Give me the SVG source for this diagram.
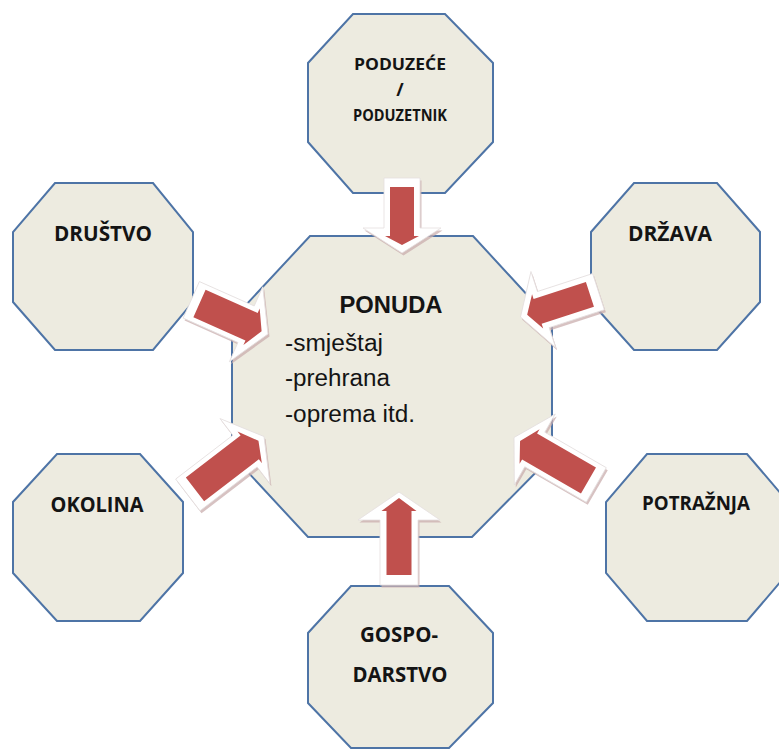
<svg xmlns="http://www.w3.org/2000/svg" width="779" height="749" viewBox="0 0 779 749">
<style>
.oct{fill:#EDEBE0;stroke:#4E74A6;stroke-width:2;stroke-linejoin:miter}
.lbl{font-family:"Open Sans","Noto Sans","Liberation Sans",sans-serif;font-weight:700;fill:#141414;text-anchor:middle}
.ctr{font-family:"Liberation Sans",Arial,sans-serif;fill:#141414}
.ash{fill:#C9AEAE;opacity:0.75}
.awh{fill:#FFFFFF;stroke:#E4DEDE;stroke-width:0.8}
.ard{fill:#C0504D}
</style>
<rect width="779" height="749" fill="#FFFFFF"/>
<g id="nodes">
<g id="ponuda">
<polygon class="oct" points="310,236 473,236 552,322 552,456 472,537 308,537 232,455 232,320"/>
<text class="ctr" x="391" y="313" font-size="23" font-weight="700" text-anchor="middle" textLength="103" lengthAdjust="spacingAndGlyphs">PONUDA</text>
<text class="ctr" x="285" y="351" font-size="23" textLength="98" lengthAdjust="spacingAndGlyphs">-smještaj</text>
<text class="ctr" x="285" y="386" font-size="23" textLength="105" lengthAdjust="spacingAndGlyphs">-prehrana</text>
<text class="ctr" x="285" y="422" font-size="23" textLength="130" lengthAdjust="spacingAndGlyphs">-oprema itd.</text>
</g>
<g id="poduzece">
<polygon class="oct" points="353,14 445,14 493,63 493,142 445,193 353,193 308,142 308,63"/>
<text class="lbl" x="400" y="70" font-size="16" textLength="92" lengthAdjust="spacingAndGlyphs">PODUZEĆE</text>
<text class="lbl" x="400" y="96" font-size="18">/</text>
<text class="lbl" x="400" y="121" font-size="16" textLength="94" lengthAdjust="spacingAndGlyphs">PODUZETNIK</text>
</g>
<g id="drustvo">
<polygon class="oct" points="55,183 153,183 193,232 193,302 153,350 55,350 13,302 13,232"/>
<text class="lbl" x="103" y="241" font-size="21" textLength="98" lengthAdjust="spacingAndGlyphs">DRUŠTVO</text>
</g>
<g id="drzava">
<polygon class="oct" points="634,183 717,183 760,232 760,302 717,350 634,350 591,302 591,232"/>
<text class="lbl" x="670" y="241" font-size="21" textLength="84" lengthAdjust="spacingAndGlyphs">DRŽAVA</text>
</g>
<g id="okolina">
<polygon class="oct" points="57,454 140,454 183,502 183,573 140,621 57,621 13,573 13,502"/>
<text class="lbl" x="97" y="512" font-size="21" textLength="93" lengthAdjust="spacingAndGlyphs">OKOLINA</text>
</g>
<g id="potraznja">
<polygon class="oct" points="647,454 747,454 788,502 788,573 747,621 647,621 606,573 606,502"/>
<text class="lbl" x="696" y="510" font-size="20" textLength="108" lengthAdjust="spacingAndGlyphs">POTRAŽNJA</text>
</g>
<g id="gospodarstvo">
<polygon class="oct" points="351,586 449,586 493,633 493,703 449,748 351,748 308,703 308,633"/>
<text class="lbl" x="399" y="642" font-size="21" textLength="78" lengthAdjust="spacingAndGlyphs">GOSPO-</text>
<text class="lbl" x="400" y="682" font-size="21" textLength="95" lengthAdjust="spacingAndGlyphs">DARSTVO</text>
</g>
</g>
<g id="connectors">
<!-- top: PODUZEĆE -> PONUDA -->
<g transform="translate(403.5,255.5) rotate(90)"><path class="ash" d="M-75,-18 L-25,-18 L-25,-39 L0,0 L-25,39 L-25,18 L-75,18 Z"/></g>
<g transform="translate(402,253) rotate(90)">
<path class="awh" d="M-75,-18 L-25,-18 L-25,-39 L0,0 L-25,39 L-25,18 L-75,18 Z"/>
<path class="ard" d="M-66,-12 L-17,-12 L-17,-17 L-8,0 L-17,17 L-17,12 L-66,12 Z"/>
</g>
<!-- bottom: GOSPODARSTVO -> PONUDA -->
<g transform="translate(400.5,494.5) rotate(-90)"><path class="ash" d="M-93,-19 L-28,-19 L-28,-41 L0,0 L-28,41 L-28,19 L-93,19 Z"/></g>
<g transform="translate(399,492) rotate(-90)">
<path class="awh" d="M-93,-19 L-28,-19 L-28,-41 L0,0 L-28,41 L-28,19 L-93,19 Z"/>
<path class="ard" d="M-83,-12.5 L-19,-12.5 L-19,-17.5 L-6,0 L-19,17.5 L-19,12.5 L-83,12.5 Z"/>
</g>
<!-- DRUŠTVO -> PONUDA -->
<g transform="translate(269.5,336.5) rotate(24)"><path class="ash" d="M-84,-20 L-24,-20 L-24,-41 L0,0 L-24,41 L-24,20 L-84,20 Z"/></g>
<g transform="translate(268,334) rotate(24)">
<path class="awh" d="M-84,-20 L-24,-20 L-24,-41 L0,0 L-24,41 L-24,20 L-84,20 Z"/>
<path class="ard" d="M-75,-15 L-18,-15 L-18,-20 L-7,0 L-18,20 L-18,15 L-75,15 Z"/>
</g>
<!-- DRŽAVA -> PONUDA -->
<g transform="translate(522,319.5) rotate(162)"><path class="ash" d="M-82,-19 L-24,-19 L-24,-40 L0,0 L-24,40 L-24,19 L-82,19 Z"/></g>
<g transform="translate(520.5,317) rotate(162)">
<path class="awh" d="M-82,-19 L-24,-19 L-24,-40 L0,0 L-24,40 L-24,19 L-82,19 Z"/>
<path class="ard" d="M-73,-13 L-18,-13 L-18,-18 L-7,0 L-18,18 L-18,13 L-73,13 Z"/>
</g>
<!-- OKOLINA -> PONUDA -->
<g transform="translate(265.5,439) rotate(-37.5)"><path class="ash" d="M-96,-20 L-24,-20 L-24,-41 L0,0 L-24,41 L-24,20 L-96,20 Z"/></g>
<g transform="translate(264,436.5) rotate(-37.5)">
<path class="awh" d="M-96,-20 L-24,-20 L-24,-41 L0,0 L-24,41 L-24,20 L-96,20 Z"/>
<path class="ard" d="M-87,-15 L-18,-15 L-18,-20 L-7,0 L-18,20 L-18,15 L-87,15 Z"/>
</g>
<!-- POTRAŽNJA -> PONUDA -->
<g transform="translate(515.5,440) rotate(210)"><path class="ash" d="M-95,-20 L-24,-20 L-24,-41 L0,0 L-24,41 L-24,20 L-95,20 Z"/></g>
<g transform="translate(514,437.5) rotate(210)">
<path class="awh" d="M-95,-20 L-24,-20 L-24,-41 L0,0 L-24,41 L-24,20 L-95,20 Z"/>
<path class="ard" d="M-86,-15 L-18,-15 L-18,-20 L-7,0 L-18,20 L-18,15 L-86,15 Z"/>
</g>
</g>
</svg>
